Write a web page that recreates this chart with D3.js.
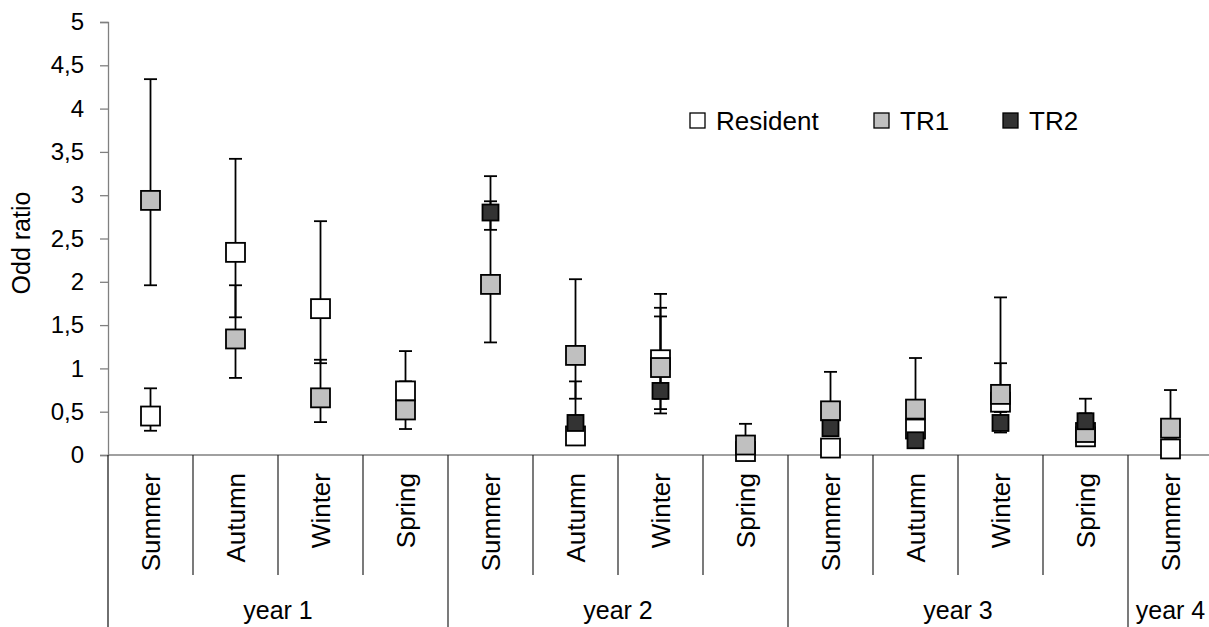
<!DOCTYPE html>
<html>
<head>
<meta charset="utf-8">
<script src="https://cdn.jsdelivr.net/npm/d3@7/dist/d3.min.js"></script>
<style>
  html, body { margin: 0; padding: 0; background: #fff; }
  svg { display: block; }
  text { font-family: "Liberation Sans", Arial, sans-serif; fill: #000; }
</style>
</head>
<body>
<svg id="chart" width="1209" height="627"></svg>
<script>
// Seasons along the x axis, grouped by study year
const seasons = ["Summer", "Autumn", "Winter", "Spring",
                 "Summer", "Autumn", "Winter", "Spring",
                 "Summer", "Autumn", "Winter", "Spring",
                 "Summer"];
const years = ["year 1", "year 2", "year 3", "year 4"];
const seasonsPerYear = [4, 4, 4, 1];

// Odd ratio estimates with lower / upper confidence limits (null = not estimated)
const residentOR    = [0.45, 2.34, 1.69, 0.74, null, 0.22, 1.10, 0.04, 0.08, 0.30, 0.61, 0.21, 0.07];
const residentLower = [0.28, 1.59, 1.06, 0.45, null, 0.12, 0.65, 0.00, 0.03, 0.20, 0.50, 0.15, 0.03];
const residentUpper = [0.77, 3.42, 2.70, 1.20, null, 0.30, 1.86, 0.08, 0.15, 0.45, 0.80, 0.30, 0.15];

const tr1OR    = [2.94, 1.34, 0.66, 0.52, 1.97, 1.15, 1.01, 0.115, 0.51, 0.53, 0.70, 0.26, 0.31];
const tr1Lower = [1.96, 0.89, 0.38, 0.30, 1.30, 0.65, 0.53, 0.02, 0.35, 0.35, 0.50, 0.18, 0.20];
const tr1Upper = [4.34, 1.96, 1.10, 0.85, 3.22, 2.03, 1.70, 0.36, 0.96, 1.12, 1.82, 0.65, 0.75];

const tr2OR    = [null, null, null, null, 2.80, 0.37, 0.74, null, 0.31, 0.17, 0.37, 0.39, null];
const tr2Lower = [null, null, null, null, 2.60, 0.20, 0.48, null, 0.22, 0.12, 0.26, 0.30, null];
const tr2Upper = [null, null, null, null, 2.93, 0.85, 1.60, null, 0.42, 0.25, 1.06, 0.48, null];

const yTicks = [0, 0.5, 1, 1.5, 2, 2.5, 3, 3.5, 4, 4.5, 5];
const seriesNames = ["Resident", "TR1", "TR2"];

// Series table built from the arrays above
const series = [
  { name: seriesNames[0], est: residentOR, lo: residentLower, hi: residentUpper, fill: "#ffffff", size: 19 },
  { name: seriesNames[1], est: tr1OR,      lo: tr1Lower,      hi: tr1Upper,      fill: "#c0c0c0", size: 19 },
  { name: seriesNames[2], est: tr2OR,      lo: tr2Lower,      hi: tr2Upper,      fill: "#333333", size: 16 }
];

const FONT = 25;
const SEASON_FONT = 26;
const TICK_FONT = 24;
const svg = d3.select("#chart");
const H = 627;

const x = d3.scaleBand().domain(d3.range(seasons.length)).range([108, 108 + 85 * seasons.length]).padding(0);
const y = d3.scaleLinear().domain([0, 5]).range([455, 22]);
const fmt = d => d3.format("")(d).replace(".", ",");

// y axis
const yAxis = svg.append("g")
  .attr("transform", `translate(${x.range()[0]},0)`)
  .call(d3.axisLeft(y).tickValues(yTicks).tickFormat(fmt).tickSize(8).tickPadding(16));
yAxis.select(".domain").attr("stroke", "#808080").attr("stroke-width", 1.3);
yAxis.selectAll(".tick line").attr("stroke", "#808080").attr("stroke-width", 1.3);
yAxis.selectAll(".tick text").attr("font-size", TICK_FONT).attr("font-family", "Liberation Sans, Arial, sans-serif").attr("fill", "#000");

// y axis title
svg.append("text")
  .attr("transform", `translate(21,243) rotate(-90)`)
  .attr("text-anchor", "middle")
  .attr("dy", "0.35em")
  .attr("font-size", FONT)
  .text("Odd ratio");

// category table below the plot
const xAxisY = y(0);
svg.append("line")
  .attr("x1", x.range()[0]).attr("x2", 1209)
  .attr("y1", xAxisY).attr("y2", xAxisY)
  .attr("stroke", "#808080").attr("stroke-width", 1.3);
// left border of the category table
svg.append("line")
  .attr("x1", x.range()[0]).attr("x2", x.range()[0])
  .attr("y1", xAxisY).attr("y2", H)
  .attr("stroke", "#222").attr("stroke-width", 1.3);

// boundaries between seasons and years
const yearStarts = [];
let acc = 0;
seasonsPerYear.forEach(n => { yearStarts.push(acc); acc += n; });
d3.range(1, seasons.length).forEach(i => {
  const isYear = yearStarts.includes(i);
  svg.append("line")
    .attr("x1", x(i)).attr("x2", x(i))
    .attr("y1", xAxisY).attr("y2", isYear ? H : 575)
    .attr("stroke", "#222").attr("stroke-width", 1.2);
});

// season labels (rotated)
svg.append("g").selectAll("text")
  .data(seasons)
  .join("text")
  .attr("transform", (d, i) => `translate(${x(i) + x.bandwidth() / 2},473) rotate(-90)`)
  .attr("text-anchor", "end")
  .attr("dy", "0.35em")
  .attr("font-size", SEASON_FONT)
  .text(d => d);

// year labels
svg.append("g").selectAll("text")
  .data(years)
  .join("text")
  .attr("x", (d, i) => {
    const a = yearStarts[i], b = a + seasonsPerYear[i] - 1;
    return (x(a) + x(b) + x.bandwidth()) / 2;
  })
  .attr("y", 610)
  .attr("text-anchor", "middle")
  .attr("dy", "0.35em")
  .attr("font-size", FONT)
  .text(d => d);

// error bars for every series first, markers on top
const cx = i => x(i) + x.bandwidth() / 2;
const capW = 6.5;
const bars = svg.append("g").attr("stroke", "#000").attr("stroke-width", 1.8);
series.forEach(s => {
  s.est.forEach((v, i) => {
    if (v == null) return;
    bars.append("line").attr("x1", cx(i)).attr("x2", cx(i)).attr("y1", y(s.lo[i])).attr("y2", y(s.hi[i]));
    bars.append("line").attr("x1", cx(i) - capW).attr("x2", cx(i) + capW).attr("y1", y(s.lo[i])).attr("y2", y(s.lo[i]));
    bars.append("line").attr("x1", cx(i) - capW).attr("x2", cx(i) + capW).attr("y1", y(s.hi[i])).attr("y2", y(s.hi[i]));
  });
});

series.forEach(s => {
  const pts = s.est.map((v, i) => ({ v, i })).filter(d => d.v != null);
  svg.append("g").selectAll("rect")
    .data(pts)
    .join("rect")
    .attr("x", d => cx(d.i) - s.size / 2)
    .attr("y", d => y(d.v) - s.size / 2)
    .attr("width", s.size)
    .attr("height", s.size)
    .attr("fill", s.fill)
    .attr("stroke", "#000")
    .attr("stroke-width", 1.8);
});

// legend
const legendX = [690, 874, 1003];
const legend = svg.append("g");
series.forEach((s, k) => {
  legend.append("rect")
    .attr("x", legendX[k]).attr("y", 113)
    .attr("width", 15).attr("height", 15)
    .attr("fill", s.fill).attr("stroke", "#000").attr("stroke-width", 1.3);
  legend.append("text")
    .attr("x", legendX[k] + 26).attr("y", 121)
    .attr("dy", "0.35em")
    .attr("font-size", SEASON_FONT)
    .text(s.name);
});
</script>
</body>
</html>
